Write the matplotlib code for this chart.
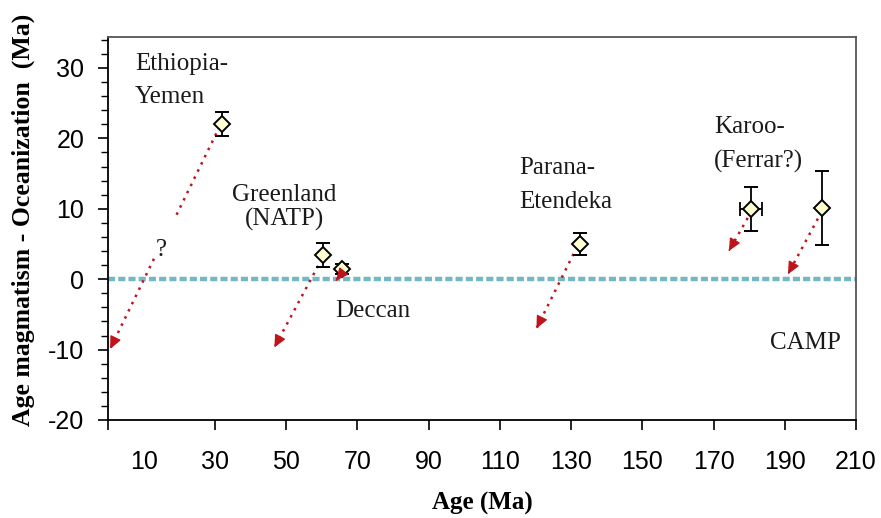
import matplotlib

matplotlib.use("Agg")
import matplotlib.pyplot as plt
from matplotlib.ticker import FixedLocator, MultipleLocator

plt.rcParams["axes.unicode_minus"] = False

# ---------------------------------------------------------------- data
provinces = ["Ethiopia-Yemen", "Greenland (NATP)", "Deccan", "Parana-Etendeka",
             "Karoo-(Ferrar?)", "CAMP"]
age = [32.0, 60.4, 65.8, 132.4, 180.5, 200.4]
age_err = [0.0, 0.0, 0.0, 0.0, 3.0, 0.0]
delta = [22.1, 3.4, 1.4, 5.0, 10.0, 10.1]
delta_err = [1.7, 1.7, 0.7, 1.6, 3.1, 5.2]

# arrow tails / heads (age, delta) for the shift of each province
arrow_from = [(12.9, 2.9), (59.0, 1.9), (66.1, 1.1), (130.7, 3.6), (179.6, 8.7), (199.3, 8.6)]
arrow_to = [(0.6, -9.9), (46.7, -9.7), (64.0, -0.2), (120.3, -7.0), (174.3, 4.0), (190.9, 0.7)]
# upper part of the Ethiopia-Yemen arrow, interrupted by the "?"
ey_upper = [(30.4, 20.7), (19.1, 9.0)]

xticks = [0, 30, 50, 70, 90, 110, 130, 150, 170, 190, 210]
xlabels = [str(v) for v in range(10, 211, 20)]
xlabel_pos = list(range(10, 211, 20))

SERIF = ["Liberation Serif", "DejaVu Serif"]
SANS = ["Liberation Sans", "DejaVu Sans"]
RED = "#c0141c"
DOTS = (0, (1, 2.2))

fig = plt.figure(figsize=(8.81, 5.18), dpi=100)
ax = fig.add_axes([0.1226, 0.1892, 0.8490, 0.7394])
ax.set_xlim(0, 210)
ax.set_ylim(-20, 34.4)

# zero line
ax.axhline(0, color="#74b8c3", lw=3.2, ls=(0, (1.6, 0.7)), zorder=1)

# arrows: dotted shaft plus a solid head
ax.plot([p[0] for p in ey_upper], [p[1] for p in ey_upper], color=RED, lw=1.8,
        ls=DOTS, zorder=2)
for (x0, y0), (x1, y1) in zip(arrow_from, arrow_to):
    ax.plot([x0, x1], [y0, y1], color=RED, lw=1.8, ls=DOTS, zorder=2)
    hx, hy = x1 - 0.03 * (x1 - x0), y1 - 0.03 * (y1 - y0)
    ax.annotate("", xy=(x1, y1), xytext=(hx, hy), zorder=4,
                arrowprops=dict(arrowstyle="-|>,head_length=0.75,head_width=0.35",
                                color=RED, lw=1.0, shrinkA=0, shrinkB=0))

# points with error bars
ax.errorbar(age, delta, yerr=delta_err, fmt="D", ms=8, mfc="#ffffd0", mec="black",
            mew=1.4, ecolor="black", elinewidth=1.3, capsize=5, capthick=1.3, zorder=3)
hx_idx = [i for i, e in enumerate(age_err) if e > 0]
ax.errorbar([age[i] for i in hx_idx], [delta[i] for i in hx_idx],
            xerr=[age_err[i] for i in hx_idx], fmt="none", ecolor="black",
            elinewidth=1.3, capsize=5, capthick=1.3, zorder=2.9)

# province labels
txt = dict(fontsize=18, family=SERIF, color="#1a1a1a", va="baseline")
ax.text(7.6, 29.7, "Ethiopia-", ha="left", **txt)
ax.text(7.6, 25.0, "Yemen", ha="left", **txt)
ax.text(14.9, 3.3, "?", ha="center", **txt)
ax.text(49.5, 11.1, "Greenland", ha="center", **txt)
ax.text(49.5, 7.6, "(NATP)", ha="center", **txt)
ax.text(63.8, -5.4, "Deccan", ha="left", **txt)
ax.text(115.5, 15.0, "Parana-", ha="left", **txt)
ax.text(115.5, 10.1, "Etendeka", ha="left", **txt)
ax.text(170.1, 20.7, "Karoo-", ha="left", **txt)
ax.text(170.1, 15.9, "(Ferrar?)", ha="left", **txt)
ax.text(185.8, -9.9, "CAMP", ha="left", **txt)

# axes styling
for side in ("top", "right"):
    ax.spines[side].set_color("#555555")
    ax.spines[side].set_linewidth(1.3)
for side in ("left", "bottom"):
    ax.spines[side].set_color("black")
    ax.spines[side].set_linewidth(1.3)

ax.yaxis.set_major_locator(FixedLocator([-20, -10, 0, 10, 20, 30]))
ax.yaxis.set_minor_locator(MultipleLocator(2))
ax.xaxis.set_major_locator(FixedLocator(xticks))
ax.set_xticklabels([])
ax.tick_params(axis="both", which="major", direction="out", length=7, width=1.2,
               colors="black")
ax.tick_params(axis="y", which="minor", direction="out", length=5, width=1.0)
ax.tick_params(axis="y", which="major", pad=10, labelsize=18)
for lab in ax.get_yticklabels():
    lab.set_family(SANS)

# x tick labels sit off the tick marks, halfway between them
for xv, s in zip(xlabel_pos, xlabels):
    ax.text(xv, -26.0, s, ha="center", va="center", fontsize=18, family=SANS,
            clip_on=False)

fig.text(0.547, 0.028, "Age (Ma)", ha="center", va="center", fontsize=18,
         fontweight="bold", family=SERIF)
fig.text(0.027, 0.575, "Age magmatism - Oceanization  (Ma)", ha="center", va="center",
         rotation=90, fontsize=18.5, fontweight="bold", family=SERIF)

fig.savefig("out.png", dpi=100)
